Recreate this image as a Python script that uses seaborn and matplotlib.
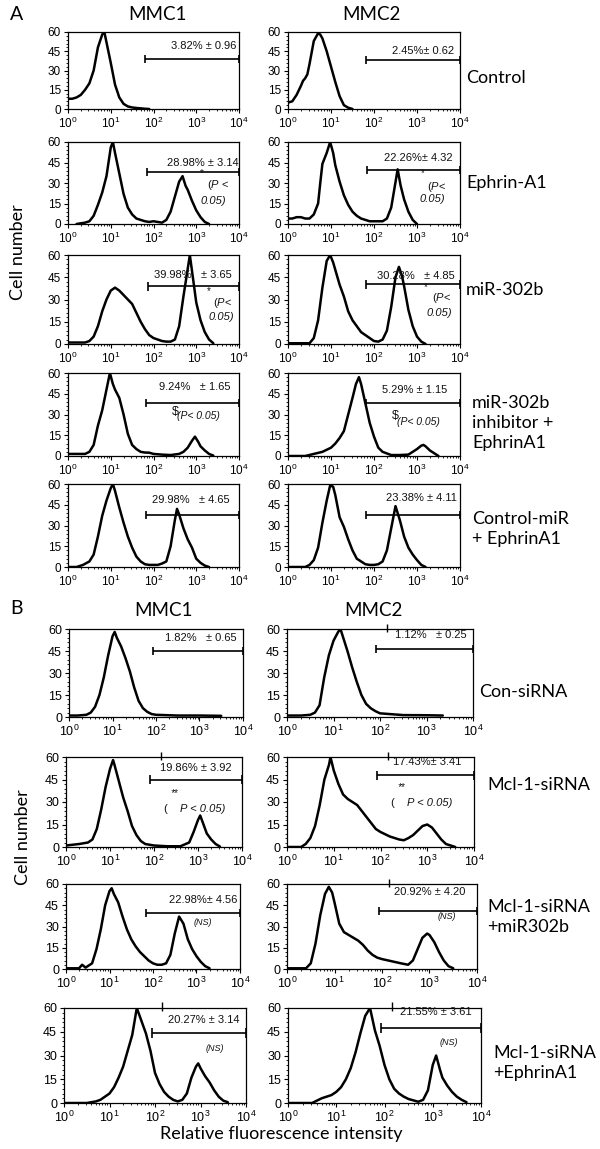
import numpy as np
import matplotlib
matplotlib.use("Agg")
import matplotlib.pyplot as plt
import seaborn as sns
from matplotlib.ticker import FixedLocator, LogLocator, MultipleLocator, NullFormatter

sns.set_style("white")
plt.rcParams["font.family"] = ["Liberation Sans", "DejaVu Sans"]
plt.rcParams["mathtext.fontset"] = "custom"
plt.rcParams["mathtext.rm"] = "Liberation Sans"
plt.rcParams["mathtext.it"] = "Liberation Sans:italic"
plt.rcParams["mathtext.bf"] = "Liberation Sans:bold"

# ---------------- data: histograms (log10 intensity, cell number) ----------------
a_mmc1_control_x = [0, .1, .2, .3, .4, .5, .6, .7, .8, .85, .9, 1.0, 1.1, 1.2, 1.3, 1.4, 1.5, 1.6, 1.7, 1.8, 1.9]
a_mmc1_control_y = [8, 8, 9, 11, 15, 20, 30, 48, 58, 60, 52, 36, 19, 9, 4, 2, 1.2, 0.8, 0.5, 0.2, 0]
a_mmc2_control_x = [0, .1, .2, .3, .35, .4, .45, .5, .6, .7, .75, .8, .9, 1.0, 1.1, 1.2, 1.3, 1.4, 1.5]
a_mmc2_control_y = [5, 6, 11, 18, 22, 24, 27, 35, 53, 59, 58, 55, 45, 33, 21, 10, 3, 1, 0]

a_mmc1_ephrin_x = [0.2, .3, .4, .5, .6, .7, .8, .9, 1.0, 1.05, 1.1, 1.2, 1.3, 1.4, 1.5, 1.6, 1.7, 1.8, 1.9, 2.0, 2.1,
                   2.2, 2.3, 2.4, 2.5, 2.6, 2.68, 2.75, 2.8, 2.9, 3.0, 3.1, 3.2, 3.3]
a_mmc1_ephrin_y = [0, 0.5, 1, 2, 6, 14, 23, 35, 56, 60, 52, 37, 22, 12, 7, 4, 3, 2, 1.5, 2, 1.5,
                   1, 3, 9, 20, 31, 35, 28, 25, 17, 10, 5, 1.5, 0]
a_mmc2_ephrin_x = [0, .1, .2, .3, .4, .5, .6, .7, .75, .8, .9, .98, 1.05, 1.1, 1.2, 1.3, 1.4, 1.5, 1.6, 1.7, 1.8,
                   1.9, 2.0, 2.1, 2.2, 2.3, 2.4, 2.47, 2.55, 2.62, 2.7, 2.8, 2.9, 3.0]
a_mmc2_ephrin_y = [4, 4, 5, 5, 4, 4, 7, 15, 30, 44, 52, 60, 52, 43, 31, 21, 14, 9, 6, 4, 3,
                   2, 2, 2, 2, 4, 12, 25, 40, 28, 18, 9, 3, 0]

a_mmc1_mir_x = [0, .2, .4, .5, .6, .7, .8, .9, 1.0, 1.1, 1.2, 1.3, 1.4, 1.5, 1.6, 1.7, 1.8, 1.9, 2.0, 2.1, 2.2,
                2.3, 2.4, 2.5, 2.6, 2.7, 2.77, 2.85, 2.93, 3.0, 3.1, 3.2, 3.3, 3.4]
a_mmc1_mir_y = [1, 1, 1, 2, 5, 12, 22, 30, 36, 38, 36, 33, 30, 27, 21, 15, 10, 6, 4, 3, 2,
                1.6, 1.6, 3, 12, 32, 45, 60, 43, 28, 16, 8, 3, 0.5]
a_mmc2_mir_x = [0, .5, .6, .7, .8, .9, .98, 1.05, 1.1, 1.2, 1.3, 1.4, 1.5, 1.6, 1.7, 1.8, 1.9, 2.0, 2.1, 2.2,
                2.3, 2.4, 2.5, 2.58, 2.65, 2.7, 2.8, 2.9, 3.0, 3.1, 3.2]
a_mmc2_mir_y = [0.5, 0.5, 4, 16, 38, 56, 60, 55, 50, 40, 32, 22, 16, 12, 8, 6, 4, 2, 1.6, 3,
                9, 25, 45, 52, 46, 39, 23, 12, 5, 1.6, 0]

a_mmc1_inhib_x = [0, .2, .4, .5, .6, .7, .8, .9, .98, 1.05, 1.1, 1.2, 1.3, 1.4, 1.5, 1.6, 1.7, 1.8, 1.9, 2.0,
                  2.2, 2.4, 2.6, 2.7, 2.8, 2.9, 2.97, 3.05, 3.1, 3.2, 3.3, 3.4]
a_mmc1_inhib_y = [1.5, 1.5, 1.5, 3, 8, 22, 33, 48, 60, 52, 48, 42, 30, 16, 8, 5, 3, 2.5, 2.4, 1.5,
                  1, 0.7, 1.5, 3, 6, 11, 14, 10, 7, 4, 1.5, 0.3]
a_mmc2_inhib_x = [0, .4, .6, .8, 1.0, 1.1, 1.2, 1.3, 1.4, 1.5, 1.58, 1.65, 1.7, 1.8, 1.9, 2.0, 2.1, 2.2, 2.4,
                  2.6, 2.8, 2.9, 3.0, 3.1, 3.15, 3.2, 3.3, 3.4, 3.5]
a_mmc2_inhib_y = [0, 0, 1.5, 3, 6, 9, 13, 18, 30, 42, 52, 57, 52, 38, 24, 14, 6, 3, 0.7,
                  0.7, 1, 3, 5, 7.5, 8, 7, 4, 2, 0]

a_mmc1_ctrlmir_x = [0, .2, .35, .5, .6, .7, .8, .9, 1.0, 1.05, 1.1, 1.2, 1.3, 1.4, 1.5, 1.6, 1.7, 1.8, 1.9, 2.0,
                    2.1, 2.2, 2.3, 2.4, 2.5, 2.55, 2.6, 2.7, 2.8, 2.9, 3.0, 3.1, 3.2, 3.3]
a_mmc1_ctrlmir_y = [0, 0, 1.5, 4, 9, 22, 37, 48, 57, 60, 55, 43, 32, 22, 14, 7.5, 4, 2, 1.5, 1.5,
                    1.5, 2.5, 4, 15, 34, 42, 38, 28, 20, 14, 6, 3, 1, 0]
a_mmc2_ctrlmir_x = [0, .4, .5, .6, .7, .8, .9, .98, 1.05, 1.1, 1.2, 1.3, 1.4, 1.5, 1.6, 1.7, 1.8, 1.9, 2.0,
                    2.1, 2.2, 2.3, 2.4, 2.5, 2.6, 2.7, 2.8, 2.9, 3.0, 3.1, 3.2]
a_mmc2_ctrlmir_y = [0, 0, 1.5, 5, 14, 32, 48, 59, 58, 52, 36, 29, 20, 12, 6, 4, 2, 1.5, 1.5,
                    2, 4, 12, 28, 44, 34, 22, 14, 9, 5, 1.5, 0]

b_mmc1_consi_x = [0, .2, .4, .5, .6, .7, .8, .9, 1.0, 1.05, 1.1, 1.2, 1.3, 1.4, 1.5, 1.6, 1.7, 1.8, 1.9, 2.0,
                  2.5, 3.0, 3.5]
b_mmc1_consi_y = [1, 1, 1.5, 3, 7, 15, 27, 42, 55, 58, 54, 48, 40, 31, 20, 11, 6, 3.5, 2, 1.5,
                  1, 1, 0.8]
b_mmc2_consi_x = [0, .3, .5, .6, .7, .8, .9, 1.0, 1.1, 1.15, 1.2, 1.3, 1.4, 1.5, 1.6, 1.7, 1.8, 1.9, 2.0,
                  2.5, 3.0, 3.35]
b_mmc2_consi_y = [1, 1, 1.5, 3, 8, 27, 42, 52, 58, 60, 55, 45, 34, 24, 15, 9, 6, 4, 2.5,
                  1.3, 1.2, 1]

b_mmc1_mcl_x = [0, .3, .5, .6, .7, .8, .9, 1.0, 1.07, 1.1, 1.2, 1.3, 1.4, 1.5, 1.6, 1.7, 1.8, 2.0, 2.3,
                2.6, 2.8, 2.9, 3.0, 3.05, 3.1, 3.2, 3.3, 3.4, 3.5]
b_mmc1_mcl_y = [1, 2, 3, 5, 12, 25, 40, 52, 58, 55, 44, 33, 24, 14, 8, 4, 2, 1, 0.5,
                0.5, 3, 10, 18, 21, 17, 9, 5, 2, 0.3]
b_mmc2_mcl_x = [0, .3, .4, .5, .6, .7, .8, .9, .93, 1.0, 1.1, 1.2, 1.3, 1.4, 1.5, 1.6, 1.7, 1.8, 1.9, 2.0,
                2.2, 2.4, 2.5, 2.6, 2.7, 2.8, 2.9, 3.0, 3.1, 3.2, 3.3, 3.4, 3.5, 3.6]
b_mmc2_mcl_y = [0, 0, 2, 6, 14, 28, 45, 55, 60, 51, 42, 35, 32, 30, 28, 24, 20, 16, 12, 10,
                7, 5, 4.5, 6, 8, 11, 14, 15, 13, 9, 5, 2, 1, 0]

b_mmc1_mclmir_x = [0, .3, .37, .45, .6, .7, .8, .9, 1.0, 1.05, 1.1, 1.2, 1.3, 1.4, 1.5, 1.6, 1.7, 1.8, 1.9,
                   2.0, 2.1, 2.2, 2.3, 2.4, 2.5, 2.6, 2.7, 2.8, 2.9, 3.0, 3.1, 3.2, 3.3]
b_mmc1_mclmir_y = [0.5, 0.5, 3, 1, 4, 14, 28, 45, 55, 57, 53, 47, 37, 28, 21, 16, 12, 9, 6,
                   4, 3, 3, 4, 10, 25, 37, 32, 21, 14, 9, 5, 2, 0.5]
b_mmc2_mclmir_x = [0, .4, .5, .6, .7, .8, .88, .95, 1.0, 1.1, 1.2, 1.3, 1.4, 1.5, 1.6, 1.7, 1.8, 1.9, 2.0,
                   2.2, 2.4, 2.55, 2.65, 2.75, 2.85, 2.95, 3.0, 3.1, 3.2, 3.3, 3.4, 3.5]
b_mmc2_mclmir_y = [0.5, 0.5, 4, 18, 38, 53, 58, 54, 47, 32, 26, 24, 22, 20, 17, 13, 10, 8, 7,
                   5.5, 4, 3, 6, 14, 22, 25, 24, 19, 12, 6, 2, 0.5]

b_mmc1_mcleph_x = [0, .5, .7, .8, .9, 1.0, 1.1, 1.2, 1.3, 1.4, 1.5, 1.6, 1.7, 1.8, 1.9, 2.0, 2.1, 2.2, 2.3,
                   2.4, 2.5, 2.6, 2.7, 2.8, 2.9, 2.95, 3.0, 3.1, 3.2, 3.3, 3.4, 3.5, 3.6]
b_mmc1_mcleph_y = [0, 0, 1, 2, 4, 6, 10, 16, 23, 33, 43, 60, 52, 44, 33, 19, 12, 7, 4,
                   2, 1, 2, 6, 16, 23, 25, 22, 17, 13, 8, 4, 1.5, 0.5]
b_mmc2_mcleph_x = [0, .5, .7, .9, 1.0, 1.1, 1.2, 1.3, 1.4, 1.5, 1.6, 1.7, 1.8, 1.9, 2.0, 2.1, 2.2, 2.3, 2.4,
                   2.5, 2.7, 2.8, 2.9, 3.0, 3.07, 3.15, 3.2, 3.3, 3.4, 3.5, 3.6, 3.7]
b_mmc2_mcleph_y = [0, 0, 3, 5, 7, 10, 15, 22, 32, 44, 55, 60, 46, 36, 24, 15, 9, 6, 4,
                   2.5, 0.8, 2, 8, 24, 30, 21, 16, 11, 7, 4, 2, 0.5]

# gate (marker) readings and percentages
gate_start = [1.81, 1.82, 1.84, 1.84, 1.86, 1.81, 1.82, 1.81, 1.83, 1.81,
              1.93, 1.91, 1.91, 1.93, 1.84, 1.93, 1.93, 1.93]
gate_level = [39, 38.2, 38, 39.5, 39, 40.4, 38.3, 38.3, 37.6, 37.6,
              45, 46.4, 44.7, 48, 39.5, 41, 44.2, 47.4]
pct_text = ["3.82% ± 0.96", "2.45%± 0.62", "28.98% ± 3.14", "22.26%± 4.32",
            "39.98%   ± 3.65", "30.28%   ± 4.85", "9.24%   ± 1.65", "5.29% ± 1.15",
            "29.98%   ± 4.65", "23.38% ± 4.11", "1.82%   ± 0.65", "1.12%   ± 0.25",
            "19.86% ± 3.92", "17.43%± 3.41", "22.98%± 4.56", "20.92% ± 4.20",
            "20.27% ± 3.14", "21.55% ± 3.61"]

row_labels_a = ["Control", "Ephrin-A1", "miR-302b", "miR-302b\ninhibitor +\nEphrinA1", "Control-miR\n+ EphrinA1"]
row_labels_b = ["Con-siRNA", "Mcl-1-siRNA", "Mcl-1-siRNA\n+miR302b", "Mcl-1-siRNA\n+EphrinA1"]
col_labels = ["MMC1", "MMC2"]
y_ticks = [0, 15, 30, 45, 60]
x_tick_labels = [r"$\mathregular{10^{%d}}$" % i for i in range(5)]

hists = [
    (a_mmc1_control_x, a_mmc1_control_y), (a_mmc2_control_x, a_mmc2_control_y),
    (a_mmc1_ephrin_x, a_mmc1_ephrin_y), (a_mmc2_ephrin_x, a_mmc2_ephrin_y),
    (a_mmc1_mir_x, a_mmc1_mir_y), (a_mmc2_mir_x, a_mmc2_mir_y),
    (a_mmc1_inhib_x, a_mmc1_inhib_y), (a_mmc2_inhib_x, a_mmc2_inhib_y),
    (a_mmc1_ctrlmir_x, a_mmc1_ctrlmir_y), (a_mmc2_ctrlmir_x, a_mmc2_ctrlmir_y),
    (b_mmc1_consi_x, b_mmc1_consi_y), (b_mmc2_consi_x, b_mmc2_consi_y),
    (b_mmc1_mcl_x, b_mmc1_mcl_y), (b_mmc2_mcl_x, b_mmc2_mcl_y),
    (b_mmc1_mclmir_x, b_mmc1_mclmir_y), (b_mmc2_mclmir_x, b_mmc2_mclmir_y),
    (b_mmc1_mcleph_x, b_mmc1_mcleph_y), (b_mmc2_mcleph_x, b_mmc2_mcleph_y),
]

# ---------------- layout (pixels) ----------------
W, H = 600, 1149
boxes = [
    (68, 32, 239, 109), (288, 32, 460, 109),
    (68, 142, 239, 224), (288, 142, 460, 224),
    (68, 255, 239, 344), (288, 255, 460, 344),
    (68, 373, 239, 456), (288, 373, 460, 456),
    (68, 484, 239, 567), (288, 484, 460, 567),
    (69, 629, 243, 717), (287, 629, 473, 717),
    (66, 757, 242, 847), (287, 757, 474, 847),
    (66, 884, 240, 969), (287, 884, 477, 969),
    (64, 1008, 246, 1103), (288, 1008, 481, 1103),
]
pct_end = [3.93, 3.86, 3.98, 3.84, 3.84, 3.88, 3.8, 3.7, 3.79, 3.93,
           3.85, 3.87, 3.77, 3.74, 3.95, 3.75, 3.85, 3.8]
pct_y = [49, 45, 44.6, 48, 46.5, 46, 49.9, 47.7, 48.4, 50,
         54, 56, 52.7, 56.7, 48.7, 54.4, 52.4, 57.5]
top_mark = [False] * 10 + [False, True, True, True, False, True, True, True]

P_LT = r"($\mathit{P}$ <"
P_LT2 = r"($\mathit{P}$<"
N = "normal"
I = "italic"
extras = {
    2: [("*", 3.09, 37, 7, "left", N), (P_LT, 3.25, 28.5, 8, "left", N), ("0.05)", 3.1, 17, 8, "left", I)],
    3: [("*", 3.08, 37.5, 7, "left", N), (P_LT2, 3.23, 27, 8, "left", N), ("0.05)", 3.07, 18.5, 8, "left", I)],
    4: [("*", 3.24, 35.5, 7, "left", N), (P_LT2, 3.4, 27.6, 8, "left", N), ("0.05)", 3.28, 18.2, 8, "left", I)],
    5: [("*", 3.17, 38.5, 7, "left", N), (P_LT2, 3.35, 31, 8, "left", N), ("0.05)", 3.23, 21, 8, "left", I)],
    6: [(r"\$", 2.42, 32, 9, "left", N), ("(P< 0.05)", 2.55, 29, 7.5, "left", I)],
    7: [(r"\$", 2.41, 29, 9, "left", N), ("(P< 0.05)", 2.53, 24.5, 7.5, "left", I)],
    12: [("**", 2.45, 36, 7, "center", I), ("(", 2.2, 25, 8, "left", N), ("P < 0.05)", 2.59, 25, 8, "left", I)],
    13: [("**", 2.44, 40, 7, "center", I), ("(", 2.2, 29.3, 8, "left", N), ("P < 0.05)", 2.57, 29.3, 8, "left", I)],
    14: [("(NS)", 3.15, 32.5, 6.5, "center", I)],
    15: [("(NS)", 3.37, 37.4, 6.5, "center", I)],
    16: [("(NS)", 3.32, 34.7, 6.5, "center", I)],
    17: [("(NS)", 3.34, 38.5, 6.5, "center", I)],
}

fig = plt.figure(figsize=(W / 100, H / 100), dpi=100)


def px_axes(l, t, r, b):
    return fig.add_axes([l / W, 1 - b / H, (r - l) / W, (b - t) / H])


def ftext(x, y, s, **kw):
    fig.text(x / W, 1 - y / H, s, **kw)


for i, ((hx, hy), box) in enumerate(zip(hists, boxes)):
    ax = px_axes(*box)
    ax.set_xscale("log")
    sns.lineplot(x=[10 ** v for v in hx], y=hy, ax=ax, color="black", lw=1.8, sort=False)
    ax.set_xlim(1, 1e4)
    ax.set_ylim(0, 60)
    for s in ax.spines.values():
        s.set_color("black")
        s.set_linewidth(0.9)
    ax.set_yticks(y_ticks)
    ax.yaxis.set_minor_locator(MultipleLocator(3))
    ax.xaxis.set_major_locator(FixedLocator([1, 10, 100, 1000, 10000]))
    ax.xaxis.set_minor_locator(LogLocator(base=10, subs=np.arange(2, 10) * 1.0, numticks=20))
    ax.xaxis.set_minor_formatter(NullFormatter())
    ax.set_xticklabels(x_tick_labels)
    lab = 8.5 if i < 10 else 9
    ax.tick_params(which="major", direction="out", length=3, width=0.8, labelsize=lab,
                   pad=2, bottom=True, left=True, top=False, right=False, colors="black")
    ax.tick_params(which="minor", direction="out", length=1.6, width=0.6,
                   bottom=True, left=True, top=False, right=False, colors="black")
    ax.set_xlabel("")
    ax.set_ylabel("")
    # gate marker
    g0 = 10 ** gate_start[i]
    gy = gate_level[i]
    ax.hlines(gy, g0, 1e4, color="black", lw=1.2, clip_on=False)
    ax.vlines([g0, 1e4], gy - 3, gy + 3, color="black", lw=1.2, clip_on=False)
    ax.text(10 ** pct_end[i], pct_y[i], pct_text[i], ha="right", va="center",
            fontsize=8, color="#111111")
    for (s, lx, ly, fs, ha, st) in extras.get(i, []):
        ax.text(10 ** lx, ly, s, ha=ha, va="center", fontsize=fs, fontstyle=st, color="#111111")
    if top_mark[i]:
        ax.vlines(10 ** 2.15, 58, 63.5, color="black", lw=1.0, clip_on=False)

LAB = dict(fontfamily=["Lato", "DejaVu Sans"], color="black")
ftext(10, 15, "A", fontsize=14, va="center", ha="left", **LAB)
ftext(10, 608, "B", fontsize=14, va="center", ha="left", **LAB)
ftext(157, 14, col_labels[0], fontsize=13.5, ha="center", va="center", **LAB)
ftext(371, 14, col_labels[1], fontsize=13.5, ha="center", va="center", **LAB)
ftext(164, 610, col_labels[0], fontsize=13.5, ha="center", va="center", **LAB)
ftext(373, 610, col_labels[1], fontsize=13.5, ha="center", va="center", **LAB)

a_label_pos = [(466, 78), (466, 183), (466, 290), (472, 423), (472, 529)]
for s, (x, y) in zip(row_labels_a, a_label_pos):
    ftext(x, y, s, fontsize=13, ha="left", va="center", linespacing=1.3, **LAB)
b_label_pos = [(479, 692), (487, 785), (487, 917), (493, 1063)]
for s, (x, y) in zip(row_labels_b, b_label_pos):
    ftext(x, y, s, fontsize=13, ha="left", va="center", linespacing=1.3, **LAB)

ftext(18, 252, "Cell number", fontsize=13, rotation=90, ha="center", va="center", **LAB)
ftext(23, 837, "Cell number", fontsize=13, rotation=90, ha="center", va="center", **LAB)
ftext(281, 1134, "Relative fluorescence intensity", fontsize=13, ha="center", va="center", **LAB)

fig.savefig("out.png", dpi=100)
